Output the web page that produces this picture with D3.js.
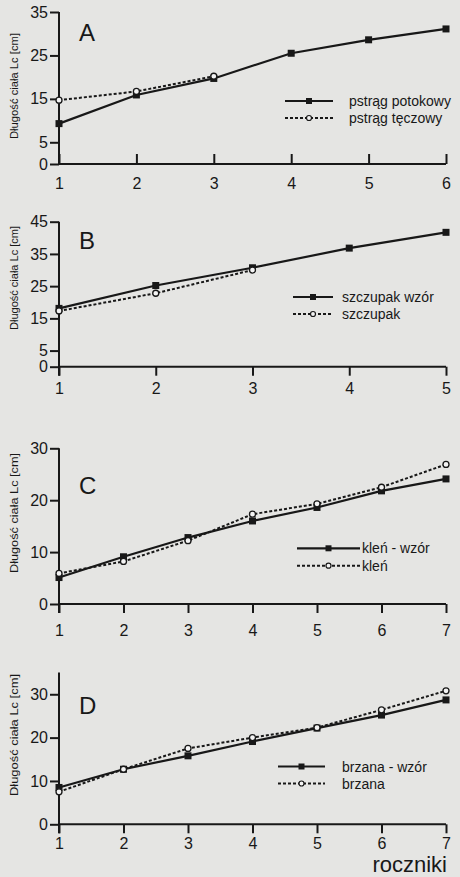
<!DOCTYPE html>
<html>
<head>
<meta charset="utf-8">
<script src="https://cdn.jsdelivr.net/npm/d3@7"></script>
<style>
  body { margin: 0; background: #e5e5e3; }
  svg { display: block; font-family: "Liberation Sans", Arial, sans-serif; }
</style>
</head>
<body>
<svg id="chart" width="460" height="877"></svg>
<script>
// panel A - pstrąg
var yearsA = [1, 2, 3, 4, 5, 6];
var potokowy = [9.3, 15.9, 19.7, 25.5, 28.6, 31.1];
var teczowy = [14.7, 16.7, 20.2];
var ticksA = [0, 5, 15, 25, 35];

// panel B - szczupak
var yearsB = [1, 2, 3, 4, 5];
var szczupakWzor = [18.1, 25.2, 30.7, 36.8, 41.7];
var szczupak = [17.3, 22.8, 30.0];
var ticksB = [0, 5, 15, 25, 35, 45];

// panel C - kleń
var yearsC = [1, 2, 3, 4, 5, 6, 7];
var klenWzor = [5.1, 9.1, 12.8, 16.0, 18.6, 21.8, 24.1];
var klen = [5.9, 8.2, 12.2, 17.3, 19.3, 22.5, 26.9];
var ticksC = [0, 10, 20, 30];

// panel D - brzana
var yearsD = [1, 2, 3, 4, 5, 6, 7];
var brzanaWzor = [8.5, 12.7, 15.8, 19.1, 22.2, 25.2, 28.7];
var brzana = [7.5, 12.7, 17.5, 20.0, 22.3, 26.4, 30.8];
var ticksD = [0, 10, 20, 30];

var svg = d3.select('#chart');
var ink = '#181818';

function panel(p) {
    var g = svg.append('g');

    var x = d3.scaleLinear().domain([1, p.years[p.years.length - 1]]).range([59, p.xEnd]);
    var y = d3.scaleLinear().domain([0, p.yMax]).range([p.y0, p.yTop]);

    // y axis
    var yAxis = d3.axisLeft(y).tickValues(p.yTicks).tickSize(9).tickPadding(2).tickFormat(d3.format('d'));
    var ya = g.append('g').attr('transform', 'translate(59,0)').call(yAxis);
    ya.select('.domain').attr('d', 'M0,' + p.yTop + 'V' + (p.y0 + (p.up ? 0 : 9)));

    // x axis
    var xAxis = d3.axisBottom(x).tickValues(p.years).tickSize(p.up ? -10 : 9).tickPadding(0).tickFormat(d3.format('d'));
    var xa = g.append('g').attr('transform', 'translate(0,' + p.y0 + ')').call(xAxis);
    xa.select('.domain').attr('d', 'M59,0H' + p.xEnd);
    xa.selectAll('.tick text').attr('y', p.labY - p.y0).attr('dy', 0);

    g.selectAll('.domain, .tick line').attr('stroke', ink).attr('stroke-width', 2);
    g.selectAll('.tick text').attr('fill', ink).style('font-size', '16px');

    // axis title
    g.append('text')
        .attr('transform', 'translate(18,' + p.titleY + ') rotate(-90)')
        .attr('text-anchor', 'middle')
        .attr('textLength', p.titleLen)
        .attr('lengthAdjust', 'spacingAndGlyphs')
        .style('font-size', '10px')
        .attr('fill', ink)
        .text('Długość ciała  Lc [cm]');

    // panel letter
    g.append('text').attr('x', 79).attr('y', p.letterY)
        .style('font-size', '24px').attr('fill', ink).text(p.letter);

    var line = d3.line().x(function(d) { return x(d[0]); }).y(function(d) { return y(d[1]); });
    var solid = p.years.map(function(yr, i) { return [yr, p.s1[i]]; });
    var dotted = p.s2.map(function(v, i) { return [p.years[i], v]; });

    g.append('path').attr('d', line(dotted)).attr('fill', 'none')
        .attr('stroke', ink).attr('stroke-width', 2).attr('stroke-dasharray', '3,2');
    g.append('path').attr('d', line(solid)).attr('fill', 'none')
        .attr('stroke', ink).attr('stroke-width', 2.2);

    g.selectAll('.sq').data(solid).enter().append('rect')
        .attr('x', function(d) { return x(d[0]) - 3.5; })
        .attr('y', function(d) { return y(d[1]) - 3.5; })
        .attr('width', 7).attr('height', 7).attr('fill', ink);
    g.selectAll('.ci').data(dotted).enter().append('circle')
        .attr('cx', function(d) { return x(d[0]); })
        .attr('cy', function(d) { return y(d[1]); })
        .attr('r', 3).attr('fill', '#f4f4f4').attr('stroke', ink).attr('stroke-width', 1.3);

    // legend
    var L = p.leg;
    g.append('line').attr('x1', L.x1).attr('x2', L.x2).attr('y1', L.y).attr('y2', L.y)
        .attr('stroke', ink).attr('stroke-width', 2.2);
    g.append('rect').attr('x', (L.x1 + L.x2) / 2 - 3).attr('y', L.y - 3).attr('width', 6).attr('height', 6).attr('fill', ink);
    g.append('line').attr('x1', L.x1).attr('x2', L.x2).attr('y1', L.y + L.gap).attr('y2', L.y + L.gap)
        .attr('stroke', ink).attr('stroke-width', 2).attr('stroke-dasharray', '3,2');
    g.append('circle').attr('cx', (L.x1 + L.x2) / 2).attr('cy', L.y + L.gap).attr('r', 2.5)
        .attr('fill', '#f4f4f4').attr('stroke', ink).attr('stroke-width', 1.2);
    g.append('text').attr('x', L.tx).attr('y', L.y + 5).style('font-size', '14px').attr('fill', ink).text(p.names[0]);
    g.append('text').attr('x', L.tx).attr('y', L.y + L.gap + 5).style('font-size', '14px').attr('fill', ink).text(p.names[1]);
}

panel({ letter: 'A', years: yearsA, s1: potokowy, s2: teczowy, yTicks: ticksA, yMax: 35,
        y0: 164, yTop: 12, xEnd: 446, up: true, labY: 189, titleY: 86, titleLen: 106, letterY: 41,
        names: ['pstrąg potokowy', 'pstrąg tęczowy'],
        leg: { x1: 285, x2: 333, y: 101, gap: 17, tx: 349 } });

panel({ letter: 'B', years: yearsB, s1: szczupakWzor, s2: szczupak, yTicks: ticksB, yMax: 45,
        y0: 366.7, yTop: 221.7, xEnd: 446, up: false, labY: 394, titleY: 278, titleLen: 104, letterY: 249,
        names: ['szczupak wzór', 'szczupak'],
        leg: { x1: 293, x2: 333, y: 297, gap: 17, tx: 342 } });

panel({ letter: 'C', years: yearsC, s1: klenWzor, s2: klen, yTicks: ticksC, yMax: 30,
        y0: 604, yTop: 448.3, xEnd: 446, up: false, labY: 636, titleY: 513, titleLen: 120, letterY: 494,
        names: ['kleń - wzór', 'kleń'],
        leg: { x1: 297, x2: 360, y: 548.3, gap: 17.4, tx: 362 } });

panel({ letter: 'D', years: yearsD, s1: brzanaWzor, s2: brzana, yTicks: ticksD, yMax: 35,
        y0: 824.3, yTop: 672.6, xEnd: 446, up: false, labY: 849, titleY: 735, titleLen: 122, letterY: 714,
        names: ['brzana - wzór', 'brzana'],
        leg: { x1: 278, x2: 325, y: 766.5, gap: 17, tx: 342 } });

svg.append('text').attr('x', 447).attr('y', 872).attr('text-anchor', 'end')
    .style('font-size', '22px').attr('fill', ink).text('roczniki');
</script>
</body>
</html>
